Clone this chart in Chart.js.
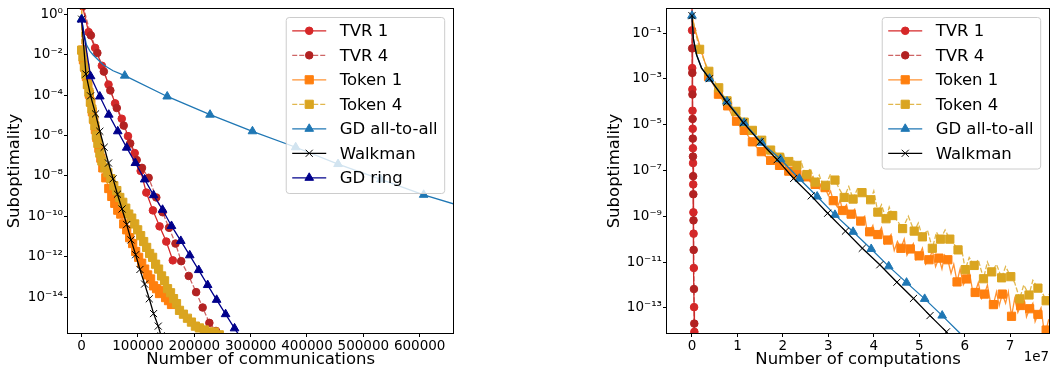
<!DOCTYPE html>
<html>
<head>
<meta charset="utf-8">
<script src="https://cdn.jsdelivr.net/npm/chart.js@4.4.1/dist/chart.umd.min.js"></script>
<style>
  html, body { margin: 0; padding: 0; background: #fff; }
  #wrap { position: relative; width: 1056px; height: 375px; overflow: hidden; }
  .box { position: absolute; top: 0; height: 375px; }
  #left { left: 0; width: 460px; }
  #right { left: 590px; width: 466px; }
</style>
</head>
<body>
<div id="wrap">
  <div class="box" id="left"><canvas id="commChart"></canvas></div>
  <div class="box" id="right"><canvas id="compChart"></canvas></div>
</div>
<script>
// values are [x, log10(suboptimality)]

// left: x = number of communications
const commTvr1 = [[1500,0.4],[12400,-0.89],[24000,-1.67],[35900,-2.55],[47700,-3.48],[59400,-4.41],[71200,-5.17],[82300,-6.03],[94200,-6.87],[104800,-7.75],[114800,-8.82],[126500,-9.70],[138300,-10.49],[150200,-11.24],[161800,-12.17]];
const commTvr4 = [[2500,0.4],[16400,-1.05],[27900,-1.92],[39400,-2.84],[50900,-3.77],[62400,-4.64],[74700,-5.51],[86200,-6.39],[97700,-7.21],[107100,-7.6],[118900,-8.09],[132500,-9.06],[143600,-9.79],[155100,-10.56],[166600,-11.34],[176700,-12.21],[190100,-12.94],[203200,-13.74],[214800,-14.5],[226700,-15.26],[238500,-15.66],[245000,-16.1]];
const commToken1 = [[0,0.5],[1500,-1.78],[3200,-2.26],[5800,-2.65],[8500,-3.09],[11100,-3.48],[13800,-3.96],[16400,-4.35],[19100,-4.83],[21700,-5.22],[24400,-5.71],[27000,-6.10],[30600,-6.63],[34100,-7.12],[37600,-7.6],[42900,-8.09],[48200,-8.62],[53500,-9.01],[58800,-9.35],[64100,-9.69],[69400,-9.88],[74700,-10.37],[80000,-10.66],[85300,-11.05],[90600,-11.34],[95900,-11.73],[101200,-12.02],[106600,-12.31],[111900,-12.6],[117200,-12.89],[122400,-13.09],[127700,-13.43],[133000,-13.57],[138300,-13.81],[143600,-13.67],[149000,-14.01],[154200,-14.16],[159500,-14.35]];
const commToken4 = [[0,0.5],[0,-1.78],[2300,-2.12],[4900,-2.6],[7600,-2.99],[10200,-3.48],[12900,-3.86],[15500,-4.35],[18200,-4.69],[20800,-5.17],[23500,-5.52],[26100,-6.0],[28800,-6.39],[32300,-6.87],[35900,-7.26],[41200,-7.6],[46500,-7.84],[51800,-8.13],[57100,-8.48],[62400,-8.72],[67700,-9.06],[73000,-9.3],[78300,-9.59],[83600,-9.88],[88900,-10.08],[94200,-10.37],[99500,-10.66],[104800,-10.95],[110100,-11.24],[115400,-11.53],[120700,-11.83],[126000,-12.02],[131300,-12.36],[136600,-12.6],[141900,-12.94],[147200,-13.18],[152500,-13.57],[157800,-13.77],[163100,-14.06],[168400,-14.31],[173700,-14.64],[180700,-14.83],[187800,-15.03],[194900,-15.22],[201900,-15.42],[209000,-15.51],[217800,-15.61],[226700,-15.71],[235500,-15.71],[244300,-15.85]];
const commGdAllLine = [[0,-0.24],[4100,-0.95],[8800,-1.53],[14700,-1.83],[20500,-2.02],[38200,-2.5],[55800,-2.8],[76500,-3.04],[151900,-4.07],[227900,-4.97],[303200,-5.79],[379900,-6.58],[455100,-7.41],[531100,-8.17],[607100,-8.93],[686000,-9.6]];
const commGdAllMarks = [[0,-0.24],[76500,-3.04],[151900,-4.07],[227900,-4.97],[303200,-5.79],[379900,-6.58],[455100,-7.41],[531100,-8.17],[607100,-8.93]];
const commWalkman = [[0,-0.25],[7600,-2.96],[15900,-4.04],[24700,-4.93],[32300,-5.79],[40000,-6.58],[47700,-7.36],[55800,-8.14],[63600,-8.9],[71700,-9.63],[80000,-10.4],[87600,-11.16],[95900,-11.89],[103500,-12.62],[111800,-13.34],[120100,-14.07],[127700,-14.8],[136000,-15.42],[141000,-15.9]];
const commGdRing = [[0,-0.27],[15900,-3.07],[32300,-4.07],[48200,-4.97],[64100,-5.79],[80000,-6.6],[95400,-7.36],[111800,-8.17],[127700,-8.95],[143600,-9.67],[159500,-10.47],[176000,-11.21],[191900,-11.92],[207800,-12.65],[223700,-13.39],[239600,-14.12],[255500,-14.83],[271400,-15.53],[287300,-16.2]];
const commTicks = [0, 100000, 200000, 300000, 400000, 500000, 600000];
const commExpTicks = [0, -2, -4, -6, -8, -10, -12, -14];

// right: x = number of computations, in units of 1e7
const compTvr1 = [[0,0.3],[0.002,-0.88],[0.005,-2.53],[0.008,-3.46],[0.012,-4.39],[0.016,-5.18],[0.02,-6.03],[0.023,-6.68],[0.027,-7.61],[0.031,-8.83],[0.035,-9.76],[0.04,-11.26],[0.046,-12.97],[0.052,-14.05],[0.055,-14.6]];
const compTvr4 = [[0,0.3],[0.004,-1.67],[0.007,-2.74],[0.01,-3.68],[0.014,-4.75],[0.018,-5.61],[0.021,-6.39],[0.025,-7.25],[0.029,-8.04],[0.033,-9.18],[0.037,-10.47],[0.043,-12.18],[0.05,-13.69],[0.055,-14.6]];
const compToken1Line = [[0,-0.24],[0.06,-0.8],[0.17,-1.53],[0.32,-2.52],[0.364,-2.90],[0.47,-3.25],[0.582,-3.67],[0.68,-3.95],[0.784,-4.18],[0.88,-4.6],[0.980,-4.85],[1.06,-5.1],[1.148,-5.25],[1.24,-5.5],[1.329,-5.75],[1.43,-6.0],[1.525,-6.18],[1.63,-6.4],[1.730,-6.56],[1.83,-6.6],[1.926,-6.78],[2.02,-6.95],[2.08,-6.75],[2.129,-7.03],[2.2,-6.9],[2.25,-7.2],[2.310,-7.18],[2.4,-7.35],[2.45,-7.1],[2.527,-7.28],[2.6,-7.5],[2.65,-7.3],[2.710,-7.61],[2.8,-7.8],[2.86,-7.5],[2.928,-7.75],[3.0,-8.1],[3.05,-7.9],[3.109,-8.32],[3.2,-8.6],[3.26,-8.3],[3.312,-8.75],[3.4,-8.5],[3.45,-8.9],[3.501,-8.91],[3.58,-8.7],[3.64,-9.2],[3.712,-9.21],[3.8,-9.0],[3.85,-9.6],[3.908,-9.68],[3.98,-9.4],[4.03,-9.9],[4.089,-9.80],[4.17,-9.5],[4.24,-10.2],[4.307,-10.04],[4.38,-9.8],[4.45,-10.5],[4.52,-10.1],[4.597,-10.40],[4.67,-10.0],[4.73,-10.7],[4.802,-10.43],[4.87,-10.2],[4.93,-10.9],[4.998,-10.73],[5.07,-10.4],[5.14,-11.1],[5.216,-10.90],[5.29,-10.5],[5.36,-11.2],[5.434,-10.83],[5.5,-11.3],[5.56,-10.7],[5.630,-10.90],[5.7,-11.5],[5.76,-11.1],[5.832,-11.87],[5.9,-11.3],[5.97,-12.0],[6.039,-11.74],[6.1,-11.4],[6.17,-12.2],[6.231,-12.33],[6.3,-11.9],[6.37,-12.6],[6.436,-12.40],[6.5,-12.0],[6.57,-12.8],[6.632,-12.86],[6.7,-12.3],[6.76,-12.9],[6.828,-12.40],[6.9,-12.8],[6.96,-12.3],[7.031,-13.37],[7.1,-12.6],[7.17,-13.2],[7.233,-12.90],[7.3,-12.5],[7.36,-13.4],[7.429,-13.04],[7.5,-12.8],[7.55,-13.6],[7.612,-13.29],[7.68,-13.0],[7.74,-13.9],[7.793,-13.97],[7.85,-13.5]];
const compToken1Marks = [[0.364,-2.90],[0.582,-3.67],[0.784,-4.18],[0.980,-4.85],[1.148,-5.25],[1.329,-5.75],[1.525,-6.18],[1.730,-6.56],[1.926,-6.78],[2.129,-7.03],[2.310,-7.18],[2.527,-7.28],[2.710,-7.61],[2.928,-7.75],[3.109,-8.32],[3.312,-8.75],[3.501,-8.91],[3.712,-9.21],[3.908,-9.68],[4.089,-9.80],[4.307,-10.04],[4.597,-10.40],[4.802,-10.43],[4.998,-10.73],[5.216,-10.90],[5.434,-10.83],[5.630,-10.90],[5.832,-11.87],[6.039,-11.74],[6.231,-12.33],[6.436,-12.40],[6.632,-12.86],[6.828,-12.40],[7.031,-13.37],[7.233,-12.90],[7.429,-13.04],[7.612,-13.29],[7.793,-13.97]];
const compToken4Line = [[0,-0.24],[0.08,-1.0],[0.168,-1.71],[0.27,-2.2],[0.370,-2.67],[0.48,-3.05],[0.588,-3.39],[0.68,-3.7],[0.771,-3.96],[0.87,-4.2],[0.967,-4.42],[1.06,-4.65],[1.148,-4.89],[1.24,-5.05],[1.329,-5.25],[1.43,-5.45],[1.534,-5.68],[1.63,-5.9],[1.730,-6.11],[1.83,-6.2],[1.926,-6.42],[2.02,-6.3],[2.08,-6.7],[2.129,-6.61],[2.2,-6.45],[2.309,-6.78],[2.4,-6.6],[2.46,-7.0],[2.527,-7.18],[2.6,-6.9],[2.710,-7.51],[2.8,-7.2],[2.87,-7.6],[2.941,-7.65],[3.04,-7.2],[3.146,-7.42],[3.24,-7.8],[3.349,-8.18],[3.45,-7.7],[3.545,-8.25],[3.64,-7.8],[3.741,-7.97],[3.84,-8.1],[3.930,-8.28],[4.0,-7.9],[4.089,-8.82],[4.17,-8.5],[4.270,-9.11],[4.34,-8.6],[4.416,-8.97],[4.52,-9.2],[4.634,-9.54],[4.76,-9.0],[4.889,-9.65],[4.98,-9.3],[5.070,-9.90],[5.18,-9.6],[5.288,-10.40],[5.38,-9.7],[5.468,-10.00],[5.57,-9.6],[5.673,-10.00],[5.76,-10.2],[5.854,-10.47],[5.93,-10.4],[6.013,-11.33],[6.1,-10.8],[6.209,-11.15],[6.3,-10.9],[6.414,-11.73],[6.5,-11.0],[6.595,-11.43],[6.7,-11.1],[6.813,-11.69],[6.9,-11.2],[7.015,-11.64],[7.1,-11.9],[7.211,-12.61],[7.3,-12.0],[7.416,-12.44],[7.5,-11.8],[7.612,-12.14],[7.7,-12.3],[7.793,-12.69],[7.86,-12.4]];
const compToken4Marks = [[0.168,-1.71],[0.370,-2.67],[0.588,-3.39],[0.771,-3.96],[0.967,-4.42],[1.148,-4.89],[1.329,-5.25],[1.534,-5.68],[1.730,-6.11],[1.926,-6.42],[2.129,-6.61],[2.309,-6.78],[2.527,-7.18],[2.710,-7.51],[2.941,-7.65],[3.146,-7.42],[3.349,-8.18],[3.545,-8.25],[3.741,-7.97],[3.930,-8.28],[4.089,-8.82],[4.270,-9.11],[4.416,-8.97],[4.634,-9.54],[4.889,-9.65],[5.070,-9.90],[5.288,-10.40],[5.468,-10.00],[5.673,-10.00],[5.854,-10.47],[6.013,-11.33],[6.209,-11.15],[6.414,-11.73],[6.595,-11.43],[6.813,-11.69],[7.015,-11.64],[7.211,-12.61],[7.416,-12.44],[7.612,-12.14],[7.793,-12.69]];
const compGdAllLine = [[0,-0.24],[0.03,-1.24],[0.102,-1.96],[0.211,-2.53],[0.386,-2.99],[0.771,-3.99],[1.148,-4.92],[1.534,-5.79],[1.948,-6.51],[2.362,-7.36],[2.754,-8.14],[3.146,-8.94],[3.545,-9.68],[3.943,-10.43],[4.329,-11.19],[4.721,-11.90],[5.120,-12.61],[5.505,-13.34],[5.891,-14.1],[5.95,-14.25]];
const compGdAllMarks = [[0,-0.24],[0.386,-2.99],[0.771,-3.99],[1.148,-4.92],[1.534,-5.79],[1.948,-6.51],[2.362,-7.36],[2.754,-8.14],[3.146,-8.94],[3.545,-9.68],[3.943,-10.43],[4.329,-11.19],[4.721,-11.90],[5.120,-12.61],[5.505,-13.34]];
const compWalkmanLine = [[0,-0.24],[0.03,-1.24],[0.102,-1.96],[0.211,-2.53],[0.386,-2.99],[0.763,-4.02],[1.133,-4.92],[1.497,-5.75],[1.874,-6.53],[2.237,-7.35],[2.623,-8.11],[2.985,-8.87],[3.377,-9.65],[3.747,-10.40],[4.133,-11.12],[4.510,-11.88],[4.874,-12.59],[5.237,-13.34],[5.599,-14.05],[5.72,-14.4]];
const compWalkmanMarks = [[0,-0.24],[0.386,-2.99],[0.763,-4.02],[1.133,-4.92],[1.497,-5.75],[1.874,-6.53],[2.237,-7.35],[2.623,-8.11],[2.985,-8.87],[3.377,-9.65],[3.747,-10.40],[4.133,-11.12],[4.510,-11.88],[4.874,-12.59],[5.237,-13.34],[5.599,-14.05]];
const compTicks = [0, 1, 2, 3, 4, 5, 6, 7];
const compExpTicks = [-1, -3, -5, -7, -9, -11, -13];

const FONT = '"DejaVu Sans", sans-serif';

const STY = {
  tvr1:  { label: 'TVR 1', color: '#d62728', line: '#d62728', dash: [], style: 'circle', r: 3.8 },
  tvr4:  { label: 'TVR 4', color: '#b22222', line: 'rgba(190,50,50,0.75)', dash: [5, 2], style: 'circle', r: 3.8 },
  tok1:  { label: 'Token 1', color: '#ff7f0e', line: 'rgba(255,127,14,0.85)', dash: [], style: 'rect', r: 5.8 },
  tok4:  { label: 'Token 4', color: '#daa520', line: 'rgba(218,165,32,0.8)', dash: [5, 2], style: 'rect', r: 5.8 },
  gdAll: { label: 'GD all-to-all', color: '#1f77b4', line: '#1f77b4', dash: [], style: 'triangle', r: 5 },
  walk:  { label: 'Walkman', color: '#000000', line: '#000000', dash: [], style: 'crossRot', r: 5 },
  ring:  { label: 'GD ring', color: '#00008b', line: '#00008b', dash: [], style: 'triangle', r: 5 }
};

const SUP = { '-': '\u207b', '0': '\u2070', '1': '\u00b9', '2': '\u00b2', '3': '\u00b3', '4': '\u2074', '5': '\u2075', '6': '\u2076', '7': '\u2077', '8': '\u2078', '9': '\u2079' };
function powLabel(v) {
  const e = String(Math.round(Math.log10(v)));
  return '10' + e.split('').map(ch => SUP[ch]).join('');
}

function toPts(rows) {
  return rows.map(r => ({ x: r[0], y: Math.pow(10, r[1]) }));
}

// one dataset when every point has a marker, otherwise a line plus a marker set
function makeSets(sty, line, marks, order) {
  const base = {
    label: sty.label, borderColor: sty.line, borderWidth: 1.3, borderDash: sty.dash,
    pointStyle: sty.style, pointRadius: sty.r, pointHoverRadius: sty.r,
    pointBackgroundColor: sty.color, pointBorderColor: sty.color, pointBorderWidth: 1,
    fill: false, tension: 0, clip: 0, order: order
  };
  if (!marks) return [{ ...base, data: toPts(line) }];
  return [
    { ...base, data: toPts(line), pointRadius: 0, pointHoverRadius: 0 },
    { ...base, data: toPts(marks), showLine: false, order: order - 0.5 }
  ];
}

const framePlugin = {
  id: 'frame',
  afterDatasetsDraw(chart) {
    const a = chart.chartArea, ctx = chart.ctx;
    ctx.save();
    ctx.strokeStyle = '#000';
    ctx.lineWidth = 1;
    ctx.strokeRect(Math.round(a.left) - 0.5, Math.round(a.top) - 0.5,
      Math.round(a.right - a.left) + 1, Math.round(a.bottom - a.top) + 1);
    ctx.restore();
  }
};

function legendPlugin(entries) {
  return {
    id: 'boxLegend',
    afterDraw(chart) {
      const a = chart.chartArea, ctx = chart.ctx;
      ctx.save();
      ctx.font = '16.5px ' + FONT;
      const tw = Math.max(...entries.map(e => ctx.measureText(e.label).width));
      const w = 53.4 + tw + 7, h = entries.length * 24.5 + 4.5;
      const bx = a.right - 8.5 - w, by = a.top + 8.4;
      ctx.beginPath();
      ctx.roundRect(bx, by, w, h, 3);
      ctx.fillStyle = 'rgba(255,255,255,0.8)';
      ctx.fill();
      ctx.strokeStyle = '#cccccc';
      ctx.lineWidth = 1;
      ctx.stroke();
      entries.forEach((e, i) => {
        const cy = by + 13.3 + i * 24.5;
        ctx.beginPath();
        ctx.setLineDash(e.dash);
        ctx.strokeStyle = e.line;
        ctx.lineWidth = 1.3;
        ctx.moveTo(bx + 6, cy);
        ctx.lineTo(bx + 40, cy);
        ctx.stroke();
        ctx.setLineDash([]);
        ctx.fillStyle = e.color;
        ctx.strokeStyle = e.color;
        ctx.lineWidth = 1;
        Chart.helpers.drawPoint(ctx, { pointStyle: e.style, radius: e.r, borderWidth: 1, rotation: 0 }, bx + 23, cy);
        ctx.fillStyle = '#000';
        ctx.textBaseline = 'middle';
        ctx.textAlign = 'left';
        ctx.fillText(e.label, bx + 53.4, cy + 1);
      });
      ctx.restore();
    }
  };
}

const offsetTextPlugin = {
  id: 'offsetText',
  afterDraw(chart) {
    const ctx = chart.ctx;
    ctx.save();
    ctx.font = '13.5px ' + FONT;
    ctx.fillStyle = '#000';
    ctx.textAlign = 'right';
    ctx.textBaseline = 'middle';
    ctx.fillText('1e7', chart.chartArea.right, 357);
    ctx.restore();
  }
};

function axisCommon() {
  return {
    grid: { display: true, drawOnChartArea: false, drawTicks: true, tickLength: 4, color: '#000', tickColor: '#000', tickWidth: 1 },
    border: { display: false },
    ticks: { font: { family: FONT, size: 13.5 }, color: '#000', padding: 1, maxRotation: 0, autoSkip: false }
  };
}

function buildChart(id, cfg) {
  const xAxis = axisCommon();
  const yAxis = axisCommon();
  new Chart(document.getElementById(id), {
    type: 'line',
    data: { datasets: cfg.datasets },
    options: {
      responsive: true,
      maintainAspectRatio: false,
      animation: false,
      events: [],
      layout: { padding: { top: 3, right: cfg.padRight, left: 0, bottom: 0 } },
      plugins: { legend: { display: false }, tooltip: { enabled: false } },
      scales: {
        x: {
          ...xAxis, type: 'linear', bounds: 'data', min: cfg.xMin, max: cfg.xMax,
          ticks: { ...xAxis.ticks, callback: v => String(v) },
          afterBuildTicks: s => { s.ticks = cfg.xTicks.map(v => ({ value: v })); },
          afterFit: s => { s.height = 42; },
          title: { display: true, text: cfg.xTitle, color: '#000', font: { family: FONT, size: 16.5 }, padding: { top: 0, bottom: 5 } }
        },
        y: {
          ...yAxis, type: 'logarithmic', bounds: 'data', min: Math.pow(10, cfg.yMinExp), max: Math.pow(10, cfg.yMaxExp),
          ticks: { ...yAxis.ticks, callback: v => powLabel(v) },
          afterBuildTicks: s => { s.ticks = cfg.yTicks.map(e => ({ value: Math.pow(10, e) })); },
          afterFit: s => { s.width = cfg.yWidth; },
          title: { display: true, text: 'Suboptimality', color: '#000', font: { family: FONT, size: 16.5 }, padding: { top: cfg.yTitlePad, bottom: 0 } }
        }
      }
    },
    plugins: [framePlugin, legendPlugin(cfg.legend)].concat(cfg.extra || [])
  });
}

buildChart('commChart', {
  datasets: [].concat(
    makeSets(STY.tvr1, commTvr1, null, 7),
    makeSets(STY.tvr4, commTvr4, null, 6),
    makeSets(STY.tok1, commToken1, null, 5),
    makeSets(STY.tok4, commToken4, null, 4),
    makeSets(STY.gdAll, commGdAllLine, commGdAllMarks, 3),
    makeSets(STY.walk, commWalkman, null, 2),
    makeSets(STY.ring, commGdRing, null, 1)
  ),
  xMin: -24200, xMax: 659500, xTicks: commTicks, xTitle: 'Number of communications',
  yMinExp: -15.76, yMaxExp: 0.248, yTicks: commExpTicks,
  yWidth: 68, yTitlePad: 5, padRight: 5,
  legend: [STY.tvr1, STY.tvr4, STY.tok1, STY.tok4, STY.gdAll, STY.walk, STY.ring]
});

buildChart('compChart', {
  datasets: [].concat(
    makeSets(STY.tvr1, compTvr1, null, 6),
    makeSets(STY.tvr4, compTvr4, null, 5),
    makeSets(STY.tok1, compToken1Line, compToken1Marks, 4),
    makeSets(STY.tok4, compToken4Line, compToken4Marks, 3),
    makeSets(STY.gdAll, compGdAllLine, compGdAllMarks, 2),
    makeSets(STY.walk, compWalkmanLine, compWalkmanMarks, 1)
  ),
  xMin: -0.55, xMax: 7.86, xTicks: compTicks, xTitle: 'Number of computations',
  yMinExp: -14.10, yMaxExp: 0.047, yTicks: compExpTicks,
  yWidth: 77, yTitlePad: 15, padRight: 3,
  legend: [STY.tvr1, STY.tvr4, STY.tok1, STY.tok4, STY.gdAll, STY.walk],
  extra: [offsetTextPlugin]
});
</script>
</body>
</html>
